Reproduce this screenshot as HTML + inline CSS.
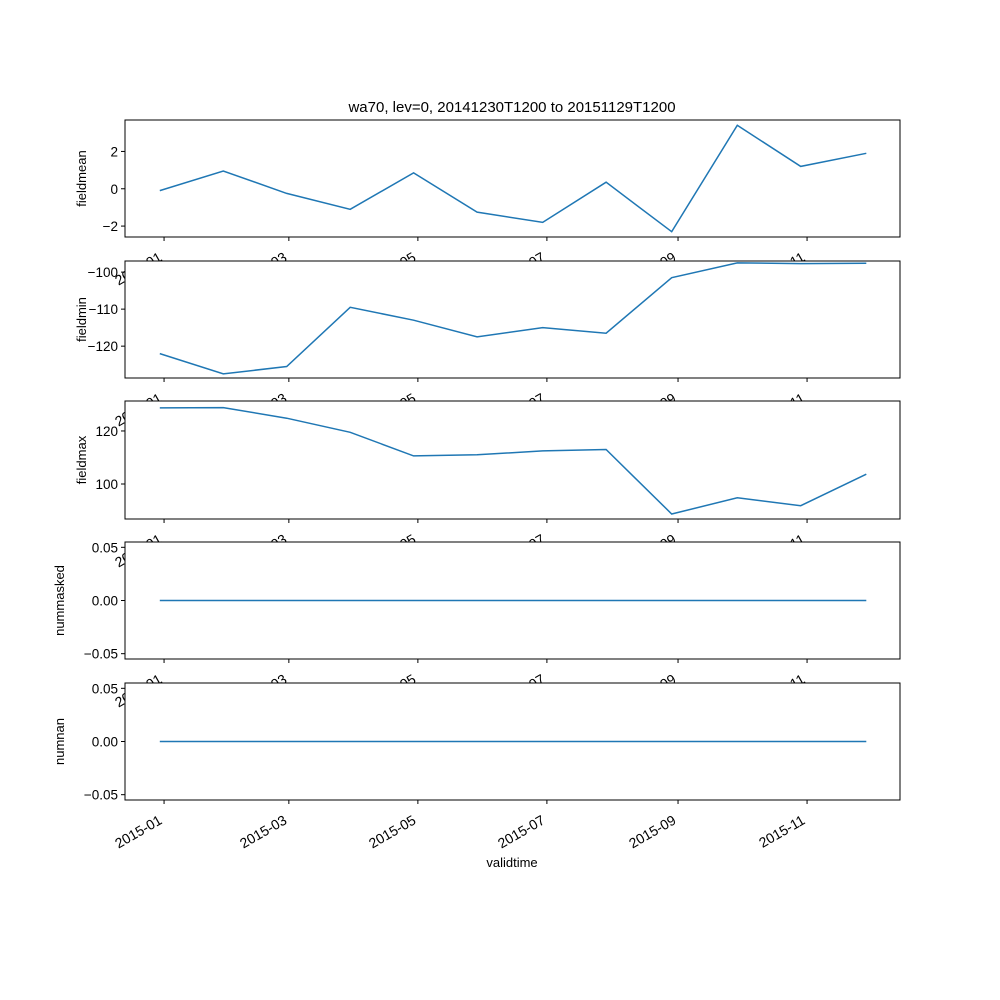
<!DOCTYPE html>
<html><head><meta charset="utf-8"><style>body{margin:0;background:#fff}svg{display:block;font-family:"Liberation Sans","DejaVu Sans",sans-serif}</style></head>
<body>
<svg id="chart" width="1000" height="1000" xmlns="http://www.w3.org/2000/svg">
<rect width="1000" height="1000" fill="#fff"/>
<text x="512" y="112" font-size="15" text-anchor="middle">wa70, lev=0, 20141230T1200 to 20151129T1200</text>
<text x="512" y="867" font-size="13" text-anchor="middle">validtime</text>
</svg>
<script>
const dates = ["2014-12-30","2015-01-29","2015-02-28","2015-03-30","2015-04-29","2015-05-29","2015-06-29","2015-07-29","2015-08-29","2015-09-29","2015-10-29","2015-11-29"];
const fieldmean = [-0.1,0.95,-0.25,-1.1,0.85,-1.25,-1.8,0.35,-2.3,3.4,1.2,1.9];
const fieldmin = [-122,-127.5,-125.5,-109.5,-113,-117.5,-115,-116.5,-101.5,-97.5,-97.7,-97.6];
const fieldmax = [128.7,128.8,124.8,119.5,110.6,111,112.5,113,88.7,94.8,91.8,103.7];
const nummasked = [0,0,0,0,0,0,0,0,0,0,0,0];
const numnan = [0,0,0,0,0,0,0,0,0,0,0,0];
const xTickLabels = ["2015-01","2015-03","2015-05","2015-07","2015-09","2015-11"];
const yTicksMean = [-2,0,2];
const yTicksMin = [-120,-110,-100];
const yTicksMax = [100,120];
const yTicksZero = [-0.05,0,0.05];

const svg=document.getElementById('chart');
const NS='http://www.w3.org/2000/svg';
function mk(t,a){const e=document.createElementNS(NS,t);for(const k in a)e.setAttribute(k,a[k]);svg.appendChild(e);return e;}
const X0=125,X1=900;
const d0=Date.UTC(2015,0,1), d1=Date.UTC(2015,10,1);
function xs(s){const t=Date.parse(s+"T12:00:00Z");return 163+(t-d0)/(d1-d0)*(806-163);}
const panels=[
 {name:'fieldmean',data:fieldmean,top:120,bot:237,lo:-2.585,hi:3.685,ticks:yTicksMean,fmt:v=>v<0?'\u2212'+(-v):''+v},
 {name:'fieldmin',data:fieldmin,top:261,bot:378,lo:-128.6,hi:-97.0,ticks:yTicksMin,fmt:v=>'\u2212'+(-v)},
 {name:'fieldmax',data:fieldmax,top:401,bot:519,lo:86.8,hi:131.3,ticks:yTicksMax,fmt:v=>''+v},
 {name:'nummasked',data:nummasked,top:542,bot:659,lo:-0.055,hi:0.055,ticks:yTicksZero,fmt:v=>v<0?'\u2212'+(-v).toFixed(2):v.toFixed(2)},
 {name:'numnan',data:numnan,top:683,bot:800,lo:-0.055,hi:0.055,ticks:yTicksZero,fmt:v=>v<0?'\u2212'+(-v).toFixed(2):v.toFixed(2)}
];
panels.forEach(p=>{
 const ys=v=>p.bot-(v-p.lo)/(p.hi-p.lo)*(p.bot-p.top);
 const r=mk('rect',{x:X0,y:p.top,width:X1-X0,height:p.bot-p.top,fill:'#fff',stroke:'#000','stroke-width':1});
 
 
 const pl=mk('polyline',{points:p.data.map((v,i)=>xs(dates[i]).toFixed(1)+','+ys(v).toFixed(1)).join(' '),fill:'none',stroke:'#1f77b4','stroke-width':1.5});
 
 
 p.ticks.forEach(v=>{const y=ys(v);
  mk('line',{x1:X0-4,x2:X0,y1:y,y2:y,stroke:'#000'});
  const t=mk('text',{x:X0-7,y:y+5,'font-size':13.5,'text-anchor':'end'});t.textContent=p.fmt(v);
  
  
 });
 const yl=mk('text',{transform:`translate(${p.name.startsWith('num')?64:86},${(p.top+p.bot)/2}) rotate(-90)`,'font-size':13,'text-anchor':'middle'});
 yl.textContent=p.name;
 
 
 xTickLabels.forEach(s=>{const x=xs(s+"-01");
  mk('line',{x1:x,x2:x,y1:p.bot,y2:p.bot+4,stroke:'#000'});
  const t=mk('text',{transform:`translate(${x-1},${p.bot+23}) rotate(-30)`,'font-size':14,'text-anchor':'end'});
  t.textContent=s;
  
  
 });
});
</script>
</body></html>
